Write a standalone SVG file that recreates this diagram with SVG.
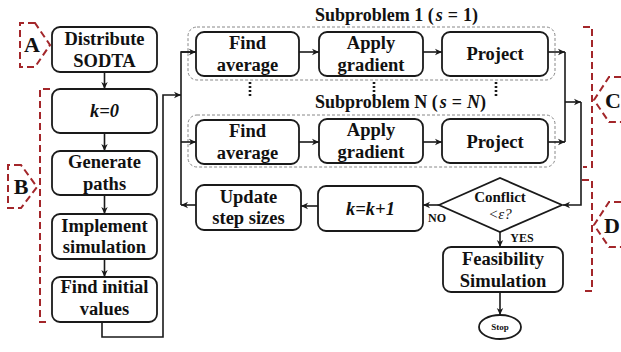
<svg xmlns="http://www.w3.org/2000/svg" width="621" height="352" viewBox="0 0 621 352" font-family="Liberation Serif, Times New Roman, Times, serif">
<defs>
<marker id="ah" markerWidth="8" markerHeight="8" refX="7" refY="4" orient="auto" markerUnits="userSpaceOnUse">
<path d="M0,0.8 L7,4 L0,7.2 L2,4 Z" fill="#1a1a1a"/>
</marker>
<style>
.box{fill:#fff;stroke:#1a1a1a;stroke-width:1.8}
.grp{fill:none;stroke:#888;stroke-width:1;stroke-dasharray:3,2}
.ln{fill:none;stroke:#1a1a1a;stroke-width:1.6}
.ar{fill:none;stroke:#1a1a1a;stroke-width:1.6;marker-end:url(#ah)}
.red{fill:none;stroke:#a3262a;stroke-width:2;stroke-dasharray:7,4}
.dots{fill:none;stroke:#1a1a1a;stroke-width:2.6;stroke-dasharray:2,2}
.t{font-weight:bold;font-size:18.5px;text-anchor:middle;fill:#111}
.it{font-style:italic}
.sm{font-size:15px}
.xs{font-size:12px}
.lab{font-weight:bold;font-size:22px;text-anchor:middle;fill:#111}
</style>
</defs>
<rect width="621" height="352" fill="#fff"/>

<g id="groups">
<rect class="grp" x="188" y="27" width="367" height="53" rx="9"/>
<rect class="grp" x="188" y="115" width="367" height="52" rx="9"/>
<text class="t" x="315" y="21" style="text-anchor:start;font-size:18px">Subproblem 1 (<tspan class="it" dx="2">s</tspan><tspan dx="5">=</tspan><tspan dx="5">1)</tspan></text>
<text class="t" x="315" y="108" style="text-anchor:start;font-size:18px">Subproblem N (<tspan class="it" dx="2">s</tspan><tspan dx="5">=</tspan><tspan class="it" dx="5">N</tspan>)</text>
<line class="dots" x1="250" y1="82" x2="250" y2="96"/>
<line class="dots" x1="374" y1="82" x2="374" y2="96"/>
<line class="dots" x1="496" y1="82" x2="496" y2="96"/>
</g>

<g id="connectors">
<line class="ar" x1="104.5" y1="72" x2="104.5" y2="89"/>
<line class="ar" x1="104.5" y1="133" x2="104.5" y2="151"/>
<line class="ar" x1="104.5" y1="195" x2="104.5" y2="214"/>
<line class="ar" x1="104.5" y1="259" x2="104.5" y2="277"/>
<path class="ar" d="M102,322 V337 H163 V95 H181"/>
<path class="ln" d="M196,52 H181 V205"/>
<line class="ar" x1="181" y1="52" x2="196" y2="52"/>
<line class="ar" x1="181" y1="142" x2="196" y2="142"/>
<line class="ar" x1="196" y1="205" x2="181" y2="205"/>
<line class="ar" x1="299" y1="52" x2="319" y2="52"/>
<line class="ar" x1="423" y1="52" x2="442" y2="52"/>
<line class="ar" x1="299" y1="142" x2="319" y2="142"/>
<line class="ar" x1="423" y1="142" x2="442" y2="142"/>
<line class="ar" x1="548" y1="52" x2="565" y2="52"/>
<line class="ar" x1="548" y1="142" x2="565" y2="142"/>
<line class="ln" x1="565" y1="52" x2="565" y2="142"/>
<line class="ar" x1="565" y1="102" x2="581" y2="102"/>
<path class="ar" d="M581,102 V205 H563"/>
<line class="ar" x1="439" y1="205" x2="423" y2="205"/>
<line class="ar" x1="318" y1="206" x2="301" y2="206"/>
<line class="ar" x1="500" y1="232" x2="500" y2="247"/>
<line class="ar" x1="500" y1="292" x2="500" y2="315"/>
<text class="t xs" x="437" y="222">NO</text>
<text class="t xs" x="522" y="242">YES</text>
</g>

<g id="distribute">
<rect class="box" x="52" y="27" width="105" height="45" rx="8"/>
<text class="t" x="104.5" y="45">Distribute</text>
<text class="t" x="104.5" y="67">SODTA</text>
</g>
<g id="k0">
<rect class="box" x="52" y="89" width="105" height="44" rx="8"/>
<text class="t it" x="104.5" y="117">k=0</text>
</g>
<g id="generate">
<rect class="box" x="52" y="151" width="105" height="44" rx="8"/>
<text class="t" x="104.5" y="168">Generate</text>
<text class="t" x="104.5" y="190">paths</text>
</g>
<g id="implement">
<rect class="box" x="52" y="214" width="105" height="45" rx="8"/>
<text class="t" x="104.5" y="232">Implement</text>
<text class="t" x="104.5" y="253">simulation</text>
</g>
<g id="initial">
<rect class="box" x="52" y="277" width="105" height="45" rx="8"/>
<text class="t" x="104.5" y="293">Find initial</text>
<text class="t" x="104.5" y="315">values</text>
</g>

<g id="avg1">
<rect class="box" x="196" y="32" width="103" height="44" rx="8"/>
<text class="t" x="247.5" y="49">Find</text>
<text class="t" x="247.5" y="71">average</text>
</g>
<g id="grad1">
<rect class="box" x="319" y="32" width="104" height="44" rx="8"/>
<text class="t" x="371" y="49">Apply</text>
<text class="t" x="371" y="71">gradient</text>
</g>
<g id="proj1">
<rect class="box" x="442" y="32" width="106" height="44" rx="8"/>
<text class="t" x="495" y="60">Project</text>
</g>
<g id="avgN">
<rect class="box" x="196" y="120" width="103" height="44" rx="8"/>
<text class="t" x="247.5" y="137">Find</text>
<text class="t" x="247.5" y="159">average</text>
</g>
<g id="gradN">
<rect class="box" x="319" y="119" width="104" height="44" rx="8"/>
<text class="t" x="371" y="136">Apply</text>
<text class="t" x="371" y="158">gradient</text>
</g>
<g id="projN">
<rect class="box" x="442" y="119" width="106" height="44" rx="8"/>
<text class="t" x="495" y="148">Project</text>
</g>

<g id="update">
<rect class="box" x="196" y="185" width="105" height="45" rx="8"/>
<text class="t" x="248.5" y="203">Update</text>
<text class="t" x="248.5" y="224">step sizes</text>
</g>
<g id="kk1">
<rect class="box" x="318" y="186" width="105" height="45" rx="8"/>
<text class="t it" x="370.5" y="215">k=k+1</text>
</g>
<g id="conflict">
<polygon class="box" points="439,205 500,178 562,205 500,232"/>
<text class="t sm" x="500" y="202">Conflict</text>
<text class="t sm it" x="500" y="219" style="font-weight:normal">&lt;ε?</text>
</g>
<g id="feasibility">
<rect class="box" x="443" y="247" width="120" height="45" rx="8"/>
<text class="t" x="503" y="265">Feasibility</text>
<text class="t" x="503" y="287">Simulation</text>
</g>
<g id="stop">
<ellipse class="box" cx="500" cy="327" rx="21" ry="12"/>
<text class="t" x="500" y="330" style="font-size:9px">Stop</text>
</g>

<g id="labelA">
<path class="red" d="M35,23 H20 V67 H35 L50,45 Z"/>
<text class="lab" x="32" y="52">A</text>
</g>
<g id="labelB">
<path class="red" d="M50,89 H40 V322 H50"/>
<path class="red" d="M21,165 H8 V208 H21 L37,187 Z"/>
<text class="lab" x="21" y="194">B</text>
</g>
<g id="labelC">
<path class="red" d="M583,27 H592 V167 H583"/>
<path class="red" d="M621,77 H609 L594,100 L609,122 H621"/>
<text class="lab" x="613" y="108">C</text>
</g>
<g id="labelD">
<path class="red" d="M582,180 H592 V291 H582"/>
<path class="red" d="M621,202 H609 L594,225 L609,247 H621"/>
<text class="lab" x="612" y="233">D</text>
</g>
</svg>
